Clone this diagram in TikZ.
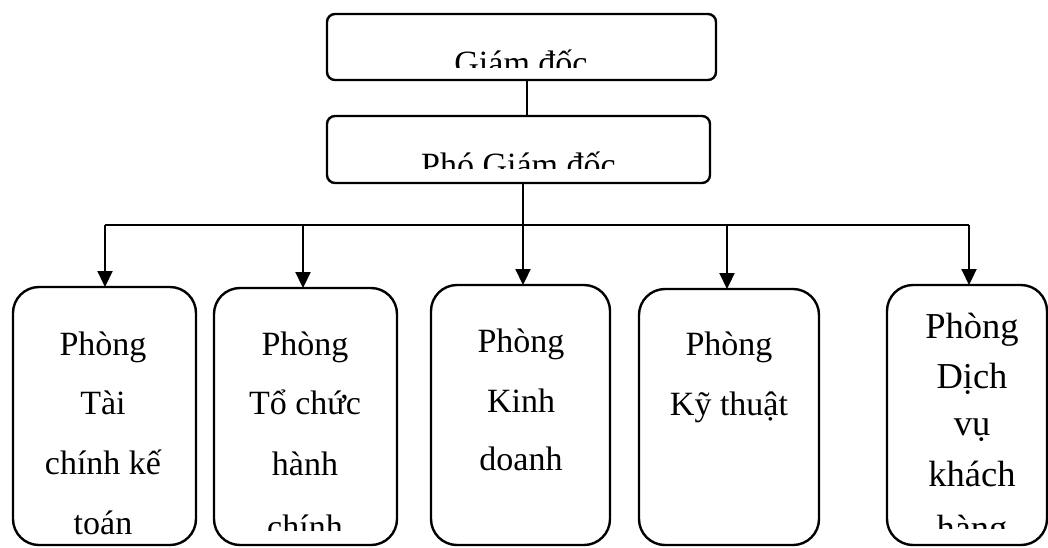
\documentclass[tikz,border=0pt]{standalone}
\usepackage{fontspec}
\setmainfont{Liberation Serif}
\usetikzlibrary{arrows.meta}
\tikzset{
  topbox/.style={draw, line width=2.4pt, rounded corners=8pt, inner sep=0pt, outer sep=0pt},
  deptbox/.style={draw, line width=2.4pt, rounded corners=26pt, inner sep=0pt, outer sep=0pt},
  txt/.style={anchor=base, inner sep=0pt, font=\fontsize{34}{40}\selectfont},
  txtb/.style={anchor=base, inner sep=0pt, font=\fontsize{36.5}{40}\selectfont},
  conn/.style={line width=2.2pt},
  arr/.style={line width=2.2pt, -{Triangle[length=16pt,width=15pt]}}
}
\begin{document}
\begin{tikzpicture}[x=1pt,y=-1pt]
\useasboundingbox (0,0) rectangle (1048,547);
% top boxes
\node[topbox, minimum width=389pt, minimum height=66pt] (gd) at (521.5,47) {};
\node[topbox, minimum width=383pt, minimum height=67pt] (pgd) at (518.5,149.5) {};
\begin{scope}
  \clip (327,14) rectangle (716,67);
  \node[txt] (gdt) at (521,74) {Giám đốc};
\end{scope}
\begin{scope}
  \clip (327,116) rectangle (710,168.5);
  \node[txt] (pgdt) at (518.5,176.5) {Phó Giám đốc};
\end{scope}
% department boxes
\node[deptbox, minimum width=183pt, minimum height=258pt] (b1) at (104.5,416) {};
\node[deptbox, minimum width=183pt, minimum height=257pt] (b2) at (305.5,416.5) {};
\node[deptbox, minimum width=179pt, minimum height=260pt] (b3) at (520.5,415) {};
\node[deptbox, minimum width=180pt, minimum height=256pt] (b4) at (729,417) {};
\node[deptbox, minimum width=160pt, minimum height=260pt] (b5) at (967,415) {};
% texts box 1
\node[txt] (t11) at (103,355) {Phòng};
\node[txt] (t12) at (103,414) {Tài};
\node[txt] (t13) at (103,474) {chính kế};
\node[txt] (t14) at (103,534) {toán};
% texts box 2
\node[txt] (t21) at (305,355) {Phòng};
\node[txt] (t22) at (305,414) {Tổ chức};
\node[txt] (t23) at (305,475) {hành};
\begin{scope}
  \clip (214,480) rectangle (397,530);
  \node[txt] (t24) at (305,538) {chính};
\end{scope}
% texts box 3
\node[txt] (t31) at (521,352) {Phòng};
\node[txt] (t32) at (521,412) {Kinh};
\node[txt] (t33) at (521,470) {doanh};
% texts box 4
\node[txt] (t41) at (729,355) {Phòng};
\node[txt] (t42) at (729,415) {Kỹ thuật};
% texts box 5
\node[txtb] (t51) at (972,338) {Phòng};
\node[txtb] (t52) at (972,388) {Dịch};
\node[txtb] (t53) at (972,435) {vụ};
\node[txtb] (t54) at (972,486) {khách};
\begin{scope}
  \clip (887,490) rectangle (1047,528);
  \node[txtb] (t55) at (972,540) {hàng};
\end{scope}
% connectors
\coordinate (c0) at (527,80);
\draw[conn] (c0) -- (c0 |- pgd.north);
\coordinate (v0) at (523,183);
\coordinate (bus1) at (105,225);
\coordinate (bus2) at (303,225);
\coordinate (bus3) at (523,225);
\coordinate (bus4) at (727,225);
\coordinate (bus5) at (969,225);
\draw[conn] (bus1) -- (bus5);
\draw[arr] (v0) -- (v0 |- b3.north);
\draw[arr] (bus1) -- (bus1 |- b1.north);
\draw[arr] (bus2) -- (bus2 |- b2.north);
\draw[arr] (bus4) -- (bus4 |- b4.north);
\draw[arr] (bus5) -- (bus5 |- b5.north);
\end{tikzpicture}
\end{document}
